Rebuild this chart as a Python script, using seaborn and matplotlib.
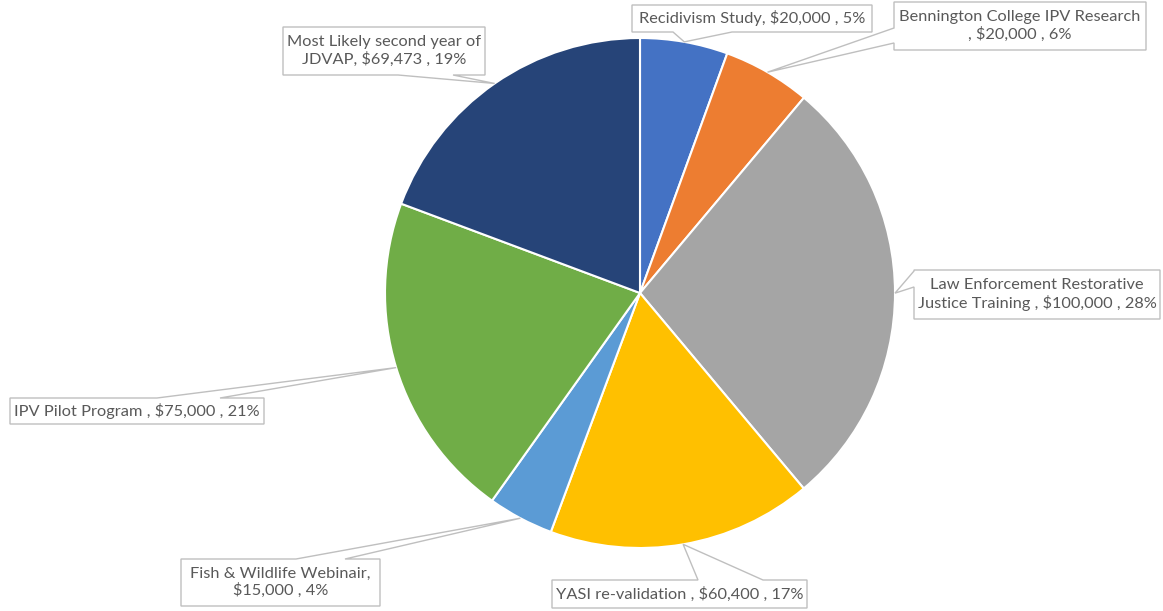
import numpy as np
import matplotlib
matplotlib.use("Agg")
import matplotlib.pyplot as plt
from matplotlib.patches import Polygon
import seaborn as sns

# data
categories = ["Recidivism Study", "Bennington College IPV Research\n",
              "Law Enforcement Restorative\nJustice Training ", "YASI re-validation ",
              "Fish & Wildlife Webinair", "IPV Pilot Program ",
              "Most Likely second year of\nJDVAP"]
amounts = [20000, 20000, 100000, 60400, 15000, 75000, 69473]
percent_labels = [5, 6, 28, 17, 4, 21, 19]
colors = ["#4472C4", "#ED7D31", "#A5A5A5", "#FFC000", "#5B9BD5", "#70AD47", "#264478"]

W, H = 1163, 611
CX, CY, R = 640, 293, 255

# callout boxes in pixels: x0, y0, x1, y1, side of the pointer, pointer base start/end
boxes = [
    (632, 5, 872, 32, "bottom", 673, 732),
    (894, 2, 1146, 50, "left", 28, 43),
    (914, 270, 1160, 319, "left", 271, 287),
    (552, 580, 807, 608, "top", 698, 763),
    (181, 559, 380, 606, "top", 296, 345),
    (10, 398, 264, 424, "top", 157, 220),
    (283, 27, 485, 75, "bottom", 398, 453),
]
# break label after this text (None = no extra break)
breaks = [None, None, None, None, "Webinair, ", None, None]

sns.set_theme(style="white")
plt.rcParams['font.family'] = ['Lato', 'DejaVu Sans']

fig = plt.figure(figsize=(W / 100, H / 100), dpi=100)
ax = fig.add_axes([0, 0, 1, 1])
wedges, _ = ax.pie(amounts, colors=colors, startangle=90, counterclock=False,
                   center=(CX, H - CY), radius=R,
                   wedgeprops=dict(edgecolor="white", linewidth=1.5))
ax.set_xlim(0, W)
ax.set_ylim(0, H)
ax.set_aspect("equal")
ax.axis("off")

for w, cat, amt, pct, box, br in zip(wedges, categories, amounts, percent_labels, boxes, breaks):
    x0, y0, x1, y1, side, a, b = box
    mid = np.deg2rad((w.theta1 + w.theta2) / 2)
    tip = (CX + R * np.cos(mid), H - CY + R * np.sin(mid))
    # outline in pixel coords, clockwise on screen
    if side == "top":
        pts = [(x0, y0), (a, y0), None, (b, y0), (x1, y0), (x1, y1), (x0, y1)]
    elif side == "bottom":
        pts = [(x0, y0), (x1, y0), (x1, y1), (b, y1), None, (a, y1), (x0, y1)]
    else:
        pts = [(x0, y0), (x1, y0), (x1, y1), (x0, y1), (x0, b), None, (x0, a)]
    verts = [tip if p is None else (p[0], H - p[1]) for p in pts]
    ax.add_patch(Polygon(verts, closed=True, facecolor="white", edgecolor="#BFBFBF",
                         linewidth=1, zorder=3))
    text = f"{cat}, ${amt:,} , {pct}%"
    if br:
        text = text.replace(br, br.rstrip() + "\n")
    ax.text((x0 + x1) / 2, H - (y0 + y1) / 2, text, ha="center", va="center",
            multialignment="center", fontsize=11.8, color="#595959",
            linespacing=1.2, zorder=4)

fig.savefig("out.png", dpi=100)
